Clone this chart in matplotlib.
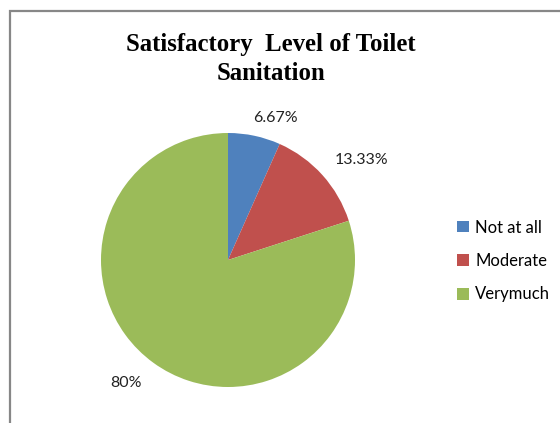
import matplotlib.pyplot as plt
from matplotlib.patches import Rectangle

labels = ['Not at all', 'Moderate', 'Verymuch']
values = [6.67, 13.33, 80]
colors = ['#4F81BD', '#C0504D', '#9BBB59']
# where each percentage sits, in pie-radius units
label_pos = [(0.37, 1.12), (1.055, 0.79), (-0.80, -0.97)]

W, H = 560, 423
fig = plt.figure(figsize=(W / 100, H / 100), dpi=100)

# chart frame (runs off the right and bottom edges)
fig.patches.append(Rectangle((10 / W, -0.1), 1.2, 1.1 - 11 / H,
                             transform=fig.transFigure, fill=False,
                             edgecolor='#878787', linewidth=1.6))

# pie centred at (228, 260) px with radius 127 px
cx, cy, r = 228, H - 260, 127
ax = fig.add_axes([(cx - r) / W, (cy - r) / H, 2 * r / W, 2 * r / H])
wedges, _ = ax.pie(values, colors=colors, startangle=90, counterclock=False,
                   radius=1, wedgeprops=dict(linewidth=0))
ax.set_xlim(-1, 1)
ax.set_ylim(-1, 1)
ax.set_aspect('equal')
ax.axis('off')

for v, (x, y) in zip(values, label_pos):
    txt = f'{v:g}%'
    ax.text(x, y, txt, ha='center', va='center', fontsize=11.5,
            family='Lato', color='#222222', clip_on=False)

fig.text(271 / W, 1 - 59 / H, 'Satisfactory  Level of Toilet\nSanitation',
         ha='center', va='center', fontsize=17.8, fontweight='bold',
         family='Liberation Serif', linespacing=1.35)

fig.legend(wedges, labels, loc='center left', bbox_to_anchor=(442 / W, 1 - 261 / H),
           frameon=False, prop={'family': 'Lato', 'size': 12},
           handlelength=0.7, handleheight=0.7, handletextpad=0.4,
           labelspacing=1.05)

fig.savefig('out.png', dpi=100)
